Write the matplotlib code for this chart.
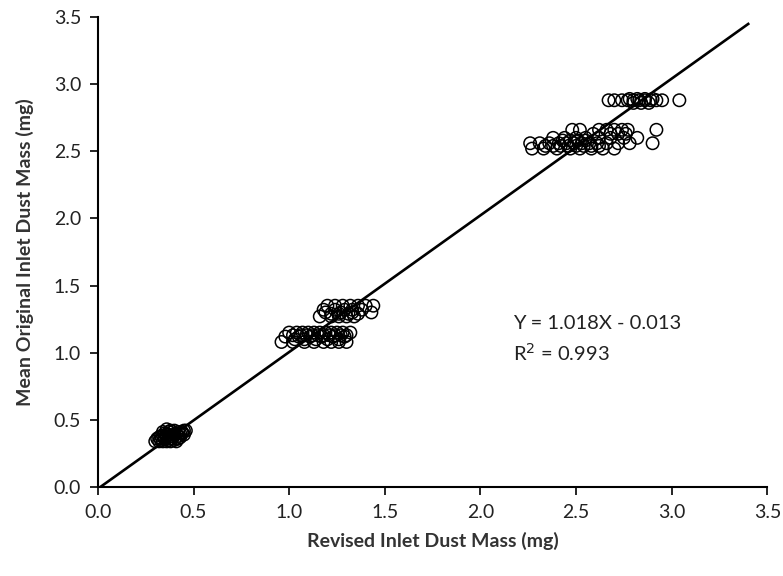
import numpy as np
import matplotlib
matplotlib.use("Agg")
import matplotlib.pyplot as plt

plt.rcParams['font.family'] = ['Lato', 'DejaVu Sans']

# cluster near 0.4 mg
x_low = [0.30, 0.32, 0.33, 0.34, 0.35, 0.36, 0.37, 0.38, 0.39, 0.40, 0.41, 0.42, 0.43,
         0.44, 0.45, 0.46, 0.31, 0.33, 0.35, 0.37, 0.38, 0.40, 0.42, 0.44, 0.36, 0.39,
         0.32, 0.34, 0.36, 0.38, 0.40, 0.42, 0.34, 0.37, 0.39, 0.41, 0.43, 0.45, 0.35, 0.38]
y_low = [0.34, 0.34, 0.35, 0.34, 0.36, 0.34, 0.35, 0.34, 0.36, 0.35, 0.34, 0.36, 0.40,
         0.41, 0.42, 0.42, 0.36, 0.38, 0.40, 0.41, 0.42, 0.42, 0.41, 0.40, 0.43, 0.38,
         0.37, 0.38, 0.39, 0.38, 0.39, 0.38, 0.41, 0.39, 0.41, 0.40, 0.37, 0.39, 0.37, 0.36]

# cluster near 1.2 mg
x_mid = [0.96, 1.02, 1.08, 1.13, 1.18, 1.22, 1.26, 1.30,
         1.00, 1.04, 1.07, 1.10, 1.13, 1.16, 1.19, 1.22, 1.25, 1.28, 1.32,
         0.98, 1.05, 1.11, 1.17, 1.23, 1.29,
         1.16, 1.22, 1.26, 1.30, 1.34,
         1.20, 1.24, 1.28, 1.32, 1.36, 1.40, 1.44,
         1.19, 1.27, 1.33, 1.43,
         1.02, 1.06, 1.09, 1.12, 1.15, 1.18, 1.21, 1.24, 1.27, 1.30,
         1.03, 1.08, 1.14, 1.20, 1.26, 1.18, 1.24, 1.29, 1.33, 1.38,
         1.22, 1.26, 1.31, 1.36]
y_mid = [1.08, 1.08, 1.08, 1.08, 1.08, 1.08, 1.08, 1.08,
         1.15, 1.15, 1.15, 1.15, 1.15, 1.15, 1.15, 1.15, 1.15, 1.15, 1.15,
         1.12, 1.12, 1.12, 1.12, 1.12, 1.12,
         1.27, 1.27, 1.27, 1.27, 1.27,
         1.35, 1.35, 1.35, 1.35, 1.35, 1.35, 1.35,
         1.30, 1.30, 1.30, 1.30,
         1.13, 1.13, 1.13, 1.13, 1.13, 1.13, 1.13, 1.13, 1.13, 1.13,
         1.10, 1.10, 1.10, 1.10, 1.10, 1.32, 1.32, 1.32, 1.32, 1.32,
         1.29, 1.29, 1.29, 1.29]

# cluster near 2.7 mg
x_high = [2.27, 2.33, 2.40, 2.47, 2.52, 2.58, 2.64, 2.70,
          2.26, 2.31, 2.36, 2.41, 2.45, 2.49, 2.53, 2.57, 2.61, 2.66, 2.72, 2.78, 2.90,
          2.38, 2.44, 2.50, 2.55, 2.62, 2.68, 2.75, 2.82,
          2.48, 2.52, 2.62, 2.66, 2.70, 2.74, 2.77, 2.92,
          2.67, 2.70, 2.74, 2.77, 2.80, 2.83, 2.86, 2.89, 2.92, 2.95, 3.04,
          2.34, 2.38, 2.42, 2.46, 2.50, 2.54, 2.58, 2.62, 2.43, 2.47, 2.51, 2.55,
          2.59, 2.68, 2.72, 2.76, 2.80, 2.84, 2.88, 2.78, 2.82, 2.86, 2.90]
y_high = [2.52, 2.52, 2.52, 2.52, 2.52, 2.52, 2.52, 2.52,
          2.56, 2.56, 2.56, 2.56, 2.56, 2.56, 2.56, 2.56, 2.56, 2.56, 2.56, 2.56, 2.56,
          2.60, 2.60, 2.60, 2.60, 2.60, 2.60, 2.60, 2.60,
          2.66, 2.66, 2.66, 2.66, 2.66, 2.66, 2.66, 2.66,
          2.88, 2.88, 2.88, 2.88, 2.88, 2.88, 2.88, 2.88, 2.88, 2.88, 2.88,
          2.54, 2.54, 2.54, 2.54, 2.54, 2.54, 2.54, 2.54, 2.58, 2.58, 2.58, 2.58,
          2.63, 2.63, 2.63, 2.63, 2.86, 2.86, 2.86, 2.89, 2.89, 2.89, 2.89]

slope, intercept = 1.018, -0.013
fit_x = [0.0, 3.4]
ticks = [0.0, 0.5, 1.0, 1.5, 2.0, 2.5, 3.0, 3.5]

fig = plt.figure(figsize=(7.83, 5.76), dpi=100)
ax = fig.add_axes([0.125, 0.1545, 0.855, 0.816])

xs = x_low + x_mid + x_high
ys = y_low + y_mid + y_high
ax.scatter(xs, ys, s=80, facecolors='none', edgecolors='black', linewidths=1.1, zorder=2)
fx = np.array(fit_x)
ax.plot(fx, slope * fx + intercept, color='black', lw=1.9, zorder=3)

ax.set_xlim(0, 3.5)
ax.set_ylim(0, 3.5)
ax.set_xticks(ticks)
ax.set_yticks(ticks)
ax.set_xticklabels([f'{t:.1f}' for t in ticks], fontsize=14, color='#222222')
ax.set_yticklabels([f'{t:.1f}' for t in ticks], fontsize=14, color='#222222')
ax.tick_params(direction='out', length=6, width=1.2, pad=6)
for s in ['top', 'right']:
    ax.spines[s].set_visible(False)
for s in ['left', 'bottom']:
    ax.spines[s].set_linewidth(1.5)

ax.set_xlabel('Revised Inlet Dust Mass (mg)', fontsize=14, fontweight='bold',
              color='#333333', labelpad=8)
ax.set_ylabel('Mean Original Inlet Dust Mass (mg)', fontsize=14, fontweight='bold',
              color='#333333', labelpad=14)

ax.text(2.17, 1.22, 'Y = 1.018X - 0.013', fontsize=14.5, va='center', color='#222222')
ax.text(2.17, 1.0, 'R$^2$ = 0.993', fontsize=14.5, va='center', color='#222222')

fig.savefig('out.png', dpi=100)
